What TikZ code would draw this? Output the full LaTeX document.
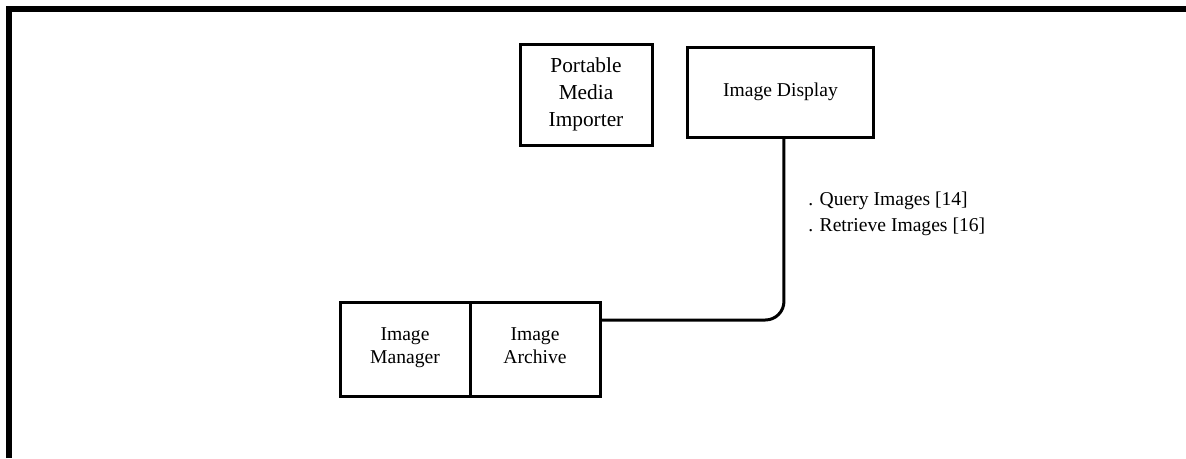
\documentclass[tikz,border=0pt]{standalone}
\usepackage{fontspec}
\setmainfont{Liberation Serif}
\usepackage{tikz}
\usetikzlibrary{positioning}

\begin{document}
\begin{tikzpicture}[
  x=0.75pt, y=-0.75pt,
  box/.style={draw=black, line width=2.25pt, outer sep=0pt, fill=white, align=center, inner sep=2pt,
    font=\fontsize{14.7}{17.5}\selectfont},
  lab/.style={align=left, inner sep=0pt, font=\fontsize{14.7}{19.5}\selectfont},
  wire/.style={draw=black, line width=2.25pt, rounded corners=14pt},
  frame/.style={draw=black, line width=4.5pt},
]
\useasboundingbox (0,0) rectangle (1186,458);
% page frame (top and left edge only)
\draw[frame] (9,458) -- (9,9) -- (1186,9);

% upper row
\node[box, minimum width=99pt, minimum height=75.75pt, font=\fontsize{16}{20}\selectfont] (pmi) at (586,94.5) {Portable\\Media\\Importer};
\node[box, minimum width=140pt, minimum height=67.5pt] (disp) at (780.5,92) {Image Display};

% lower pair, sharing one wall
\node[box, minimum width=97.5pt, minimum height=70.5pt] (mgr) at (405,349) {Image\\Manager\strut};
\node[box, minimum width=97.5pt, minimum height=70.5pt, right=0pt of mgr] (arch) {Image\\Archive\strut};

% transaction link
\draw[wire] ([xshift=2.6pt]disp.south) |- ([yshift=21.75pt]arch.east);
\node[lab, anchor=west] (trans) at (808,214) {. Query Images [14]\\. Retrieve Images [16]};
\end{tikzpicture}
\end{document}
